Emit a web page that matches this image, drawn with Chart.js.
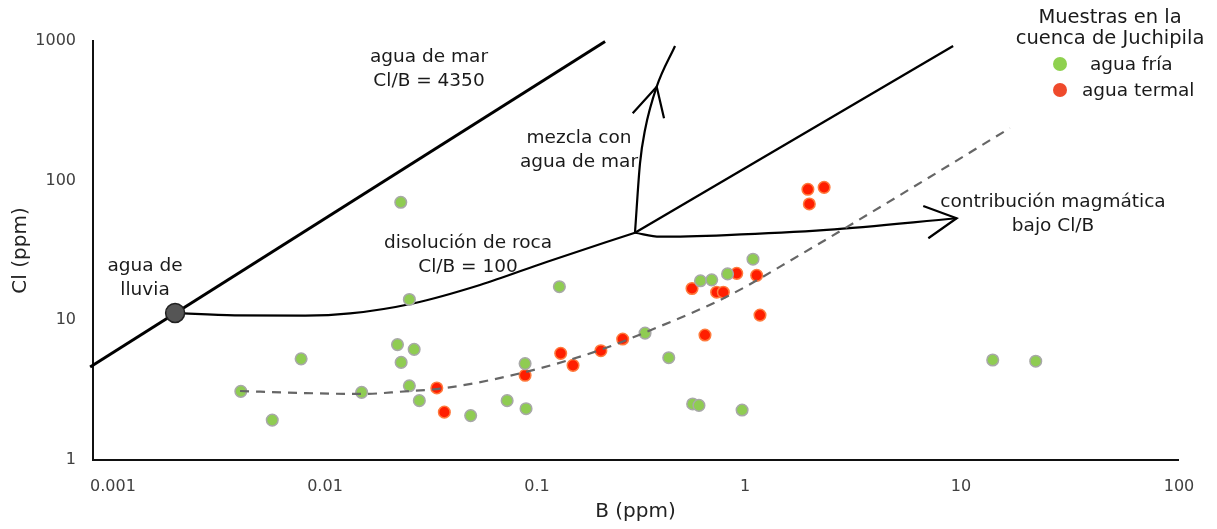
<!DOCTYPE html>
<html>
<head>
<meta charset="utf-8">
<script src="https://cdn.jsdelivr.net/npm/chart.js@4.4.1/dist/chart.umd.min.js"></script>
<style>
  html, body { margin: 0; padding: 0; background: #fff; }
  #wrap { width: 1217px; height: 529px; }
</style>
</head>
<body>
<div id="wrap"><canvas id="clbChart" width="1217" height="529"></canvas></div>
<script>
// tick labels
const xTicks = [0.001, 0.01, 0.1, 1, 10, 100];
const xTickLabels = ["0.001", "0.01", "0.1", "1", "10", "100"];
const yTicks = [1, 10, 100, 1000];
const yTickLabels = ["1", "10", "100", "1000"];

// muestras (ppm)
const friaB  = [0.0048, 0.0067, 0.0091, 0.0173, 0.0253, 0.0302, 0.0263, 0.0287, 0.0319, 0.0262, 0.0287, 0.055, 0.081, 0.099, 0.098, 0.141, 0.35, 0.45, 0.58, 0.62, 0.98, 0.63, 0.71, 0.84, 1.10, 14.0, 22.1];
const friaCl = [3.1, 1.93, 5.3, 3.05, 6.7, 6.2, 5.0, 3.4, 2.66, 70, 14.1, 2.08, 2.66, 2.33, 4.9, 17.4, 8.1, 5.4, 2.52, 2.46, 2.28, 19.2, 19.5, 21.5, 27.4, 5.2, 5.1];
const termalB  = [0.0384, 0.0416, 0.098, 0.143, 0.163, 0.219, 0.276, 0.576, 0.748, 0.803, 0.926, 1.144, 0.661, 1.185, 1.97, 2.34, 2.0];
const termalCl = [3.28, 2.20, 4.04, 5.8, 4.76, 6.06, 7.35, 16.9, 15.9, 15.9, 21.7, 21.0, 7.85, 10.9, 86.7, 89.6, 68.1];

// agua de lluvia
const lluviaB = [0.00239];
const lluviaCl = [11.3];

// lineas de mezcla
const marB = [0.00097, 0.229];
const marCl = [4.64, 991];
const rocaB = [0.3145, 9.2];
const rocaCl = [42.4, 920];
const curvaLluviaB = [0.00239, 0.0045, 0.0095, 0.0153, 0.0298, 0.0607, 0.124, 0.3145];
const curvaLluviaCl = [11.3, 10.85, 10.8, 11.2, 13.2, 17.9, 26.3, 42.4];
const mezclaB = [0.3145, 0.3317, 0.3498, 0.396, 0.481];
const mezclaCl = [42.4, 133.1, 230.6, 470.7, 920.7];
const mezclaPuntaB = [0.307, 0.396, 0.428];
const mezclaPuntaCl = [303.6, 470.7, 279.6];
const magmaB = [0.3145, 0.410, 0.832, 2.405, 9.55];
const magmaCl = [42.4, 39.7, 40.8, 44.4, 53.8];
const magmaPuntaB = [6.70, 9.55, 7.07];
const magmaPuntaCl = [65.9, 53.8, 38.7];

// tendencia (linea discontinua)
const tendB  = [0.00476, 0.009, 0.0174, 0.026, 0.0428, 0.1, 0.217, 0.357, 0.835, 1.81, 5.24, 16.8];
const tendCl = [3.12, 3.02, 2.97, 3.08, 3.29, 4.29, 6.13, 8.29, 14.8, 29.4, 78.9, 238];

const FONT = "'DejaVu Sans', Verdana, sans-serif";

function pts(xs, ys) {
  return xs.map((x, i) => ({ x: x, y: ys[i] }));
}

function lineSet(label, xs, ys, width, extra) {
  return Object.assign({
    type: "line",
    label: label,
    data: pts(xs, ys),
    borderColor: "#000",
    borderWidth: width,
    pointRadius: 0,
    fill: false,
    cubicInterpolationMode: "monotone",
    order: 3,
  }, extra || {});
}

// text on top of the chart: notes, legend, x tick labels
const notes = [
  { lines: ["agua de mar", "Cl/B = 4350"], x: 429, y: 57 },
  { lines: ["mezcla con", "agua de mar"], x: 579, y: 138 },
  { lines: ["disolución de roca", "Cl/B = 100"], x: 468, y: 243 },
  { lines: ["agua de", "lluvia"], x: 145, y: 266 },
  { lines: ["contribución magmática", "bajo Cl/B"], x: 1053, y: 202 },
];
const xLabelNudge = [20, 15, 10, 1, 0, 1];

const textPlugin = {
  id: "textPlugin",
  afterDraw(chart) {
    const ctx = chart.ctx;
    ctx.save();
    ctx.textBaseline = "middle";

    // x tick labels
    const xs = chart.scales.x;
    ctx.fillStyle = "#404040";
    ctx.font = "16px " + FONT;
    ctx.textAlign = "center";
    xTicks.forEach((v, i) => {
      ctx.fillText(xTickLabels[i], xs.getPixelForValue(v) + xLabelNudge[i], xs.top + 27);
    });

    // notes
    ctx.fillStyle = "#1a1a1a";
    ctx.font = "18.5px " + FONT;
    notes.forEach(n => {
      n.lines.forEach((t, k) => ctx.fillText(t, n.x, n.y + k * 24));
    });

    // legend
    ctx.font = "19.5px " + FONT;
    ctx.fillText("Muestras en la", 1110, 18);
    ctx.fillText("cuenca de Juchipila", 1110, 39);
    ctx.font = "18.5px " + FONT;
    ctx.textAlign = "left";
    const items = [
      { label: chart.data.datasets[1].label, color: "#8fd14f", tx: 1090, y: 64 },
      { label: chart.data.datasets[2].label, color: "#ef4a2c", tx: 1082, y: 90 },
    ];
    items.forEach(it => {
      ctx.beginPath();
      ctx.arc(1060, it.y, 7, 0, Math.PI * 2);
      ctx.fillStyle = it.color;
      ctx.fill();
      ctx.fillStyle = "#1a1a1a";
      ctx.fillText(it.label, it.tx, it.y + 1);
    });
    ctx.restore();
  }
};

const ctx = document.getElementById("clbChart").getContext("2d");
new Chart(ctx, {
  type: "scatter",
  data: {
    datasets: [
      lineSet("tendencia", tendB, tendCl, 2.2, { borderColor: "#666", borderDash: [9, 7], order: 0 }),
      {
        label: "agua fría",
        data: pts(friaB, friaCl),
        backgroundColor: "#8fcc52",
        borderColor: "#a8a8a8",
        borderWidth: 1.5,
        pointRadius: 5.8,
        order: 1,
      },
      {
        label: "agua termal",
        data: pts(termalB, termalCl),
        backgroundColor: "#ff1e00",
        borderColor: "#ff7a3d",
        borderWidth: 1.5,
        pointRadius: 5.8,
        order: 1,
      },
      {
        label: "agua de lluvia",
        data: pts(lluviaB, lluviaCl),
        backgroundColor: "#555",
        borderColor: "#222",
        borderWidth: 1.5,
        pointRadius: 9.5,
        order: 2,
      },
      lineSet("agua de mar", marB, marCl, 3, { cubicInterpolationMode: "default", tension: 0, clip: false }),
      lineSet("disolución de roca", rocaB, rocaCl, 2.3, { cubicInterpolationMode: "default", tension: 0 }),
      lineSet("curva lluvia", curvaLluviaB, curvaLluviaCl, 2.2),
      lineSet("mezcla con agua de mar", mezclaB, mezclaCl, 2.2),
      lineSet("punta mezcla", mezclaPuntaB, mezclaPuntaCl, 2.2, { cubicInterpolationMode: "default", tension: 0 }),
      lineSet("contribución magmática", magmaB, magmaCl, 2.2),
      lineSet("punta magma", magmaPuntaB, magmaPuntaCl, 2.2, { cubicInterpolationMode: "default", tension: 0 }),
    ],
  },
  options: {
    responsive: false,
    animation: false,
    events: [],
    layout: { padding: { left: 0, right: 39, top: 41, bottom: 0 } },
    plugins: {
      legend: { display: false },
      tooltip: { enabled: false },
    },
    scales: {
      x: {
        type: "logarithmic",
        min: 0.001,
        max: 100,
        grid: { display: false, drawTicks: false },
        border: { display: true, color: "#111", width: 2 },
        ticks: { display: false },
        afterBuildTicks: (scale) => { scale.ticks = xTicks.map(v => ({ value: v })); },
        afterFit: (scale) => { scale.height = 69; },
        title: {
          display: true,
          text: "B (ppm)",
          color: "#222",
          font: { family: FONT, size: 20 },
          padding: { top: 0, bottom: 5 },
        },
      },
      y: {
        type: "logarithmic",
        min: 1,
        max: 1000,
        grid: { display: false, drawTicks: false },
        border: { display: true, color: "#111", width: 2 },
        ticks: {
          color: "#404040",
          font: { family: FONT, size: 16 },
          padding: 17,
          callback: (v) => yTickLabels[yTicks.indexOf(v)] || "",
        },
        afterBuildTicks: (scale) => { scale.ticks = yTicks.map(v => ({ value: v })); },
        afterFit: (scale) => { scale.width = 93; },
        title: {
          display: true,
          text: "Cl (ppm)",
          color: "#222",
          font: { family: FONT, size: 20 },
          padding: { top: 9, bottom: 0 },
        },
      },
    },
  },
  plugins: [textPlugin],
});
</script>
</body>
</html>
